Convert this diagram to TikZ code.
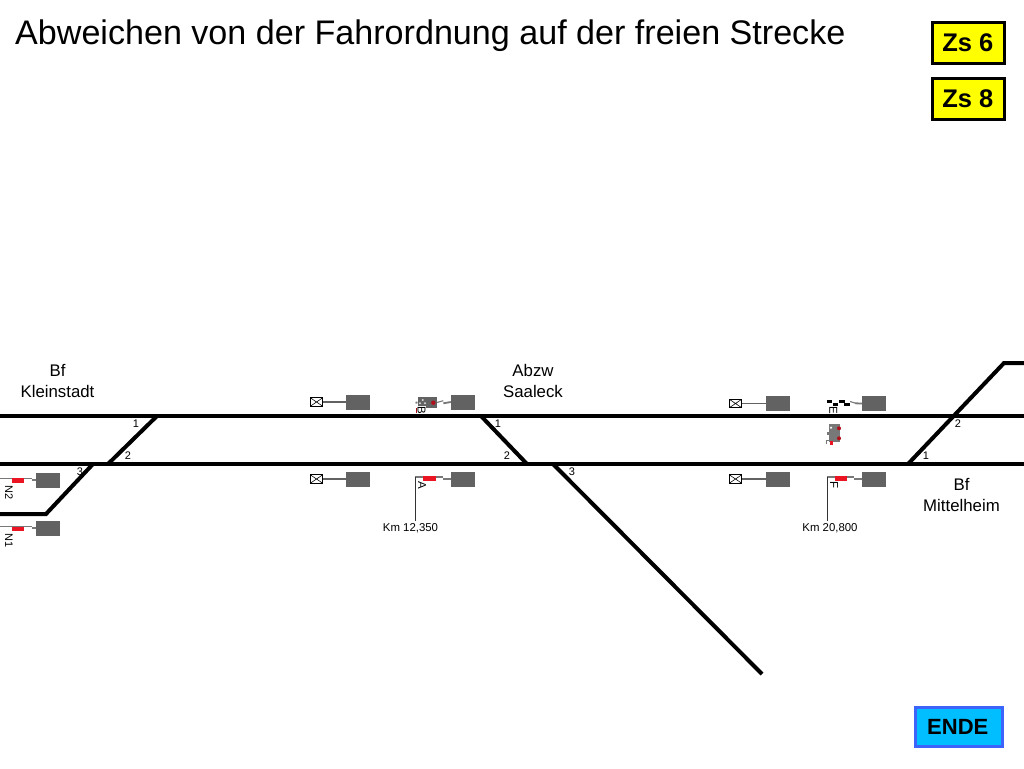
\documentclass[tikz,border=0pt]{standalone}
\usepackage{fontspec}
\setmainfont{Liberation Sans}
\definecolor{blockgray}{RGB}{98,98,98}
\definecolor{armgray}{RGB}{120,120,120}
\definecolor{sigred}{RGB}{235,20,35}
\definecolor{zsyellow}{RGB}{255,255,0}
\definecolor{endecyan}{RGB}{0,190,255}
\definecolor{endeblue}{RGB}{60,100,250}
\tikzset{
  track/.style={line width=4pt},
  block/.style={draw=none, fill=blockgray, rectangle, minimum width=24pt, minimum height=15pt, inner sep=0pt},
  crossbox/.style={draw=black, line width=0.7pt, rectangle, minimum width=12.5pt, minimum height=8.5pt, inner sep=0pt,
    path picture={\draw[line width=0.6pt] (path picture bounding box.north west) -- (path picture bounding box.south east)
      (path picture bounding box.south west) -- (path picture bounding box.north east);}},
  redbar/.style={fill=sigred, draw=none, rectangle, minimum width=12.5pt, minimum height=4.5pt, inner sep=0pt},
  arm/.style={line width=1.1pt, draw=armgray},
  arm thick/.style={line width=1.8pt, draw=armgray},
  mast/.style={line width=0.8pt, draw=black!80},
  zsbox/.style={draw=black, fill=zsyellow, line width=3pt, rectangle, minimum width=72pt, minimum height=41pt, inner sep=0pt,
    font=\fontsize{25.5}{25.5}\selectfont\bfseries},
  endebox/.style={draw=endeblue, fill=endecyan, line width=3pt, rectangle, minimum width=87pt, minimum height=39pt, inner sep=0pt,
    font=\fontsize{22}{22}\selectfont\bfseries},
  place/.style={align=center, font=\fontsize{16.8}{21}\selectfont, inner sep=0pt},
  tracknum/.style={font=\fontsize{11}{11}\selectfont, inner sep=0pt},
  km/.style={font=\fontsize{11.4}{11.4}\selectfont, inner sep=0pt},
  sigletter/.style={font=\fontsize{11.5}{11.5}\selectfont, rotate=-90, inner sep=0pt}
}
\begin{document}
\begin{tikzpicture}[x=1pt, y=-1pt]
  \useasboundingbox (0,0) rectangle (1024,768);

  \node[anchor=west, inner sep=0pt, font=\fontsize{34.1}{35}\selectfont] (title) at (15,36) {Abweichen von der Fahrordnung auf der freien Strecke};
  \node[zsbox] (zs6) at (968.5,43) {\hspace*{-1.5pt}Zs 6};
  \node[zsbox] (zs8) at (968.5,99) {\hspace*{-1.5pt}Zs 8};
  \node[endebox] (ende) at (958.5,727) {\hspace*{-1.5pt}ENDE};

  \coordinate (topL) at (0,416);
  \coordinate (topR) at (1024,416);
  \coordinate (botL) at (0,464);
  \coordinate (botR) at (1024,464);
  \draw[track] (topL) -- (topR);
  \draw[track] (botL) -- (botR);

  \coordinate (kleinA) at (157,416);
  \coordinate (kleinB) at (108,464);
  \coordinate (kleinC) at (93,464);
  \coordinate (kleinD) at (46,514);
  \coordinate (kleinE) at (0,514);
  \draw[track] (kleinA) -- (kleinB);
  \draw[track, line join=miter] (kleinC) -- (kleinD) -- (kleinE);

  \coordinate (saalA) at (481,416);
  \coordinate (saalB) at (527,464);
  \coordinate (saalC) at (553,464);
  \coordinate (saalD) at (762,674);
  \draw[track] (saalA) -- (saalB);
  \draw[track] (saalC) -- (saalD);

  \coordinate (mittA) at (908,464);
  \coordinate (mittB) at (1004,363);
  \coordinate (mittC) at (1024,363);
  \draw[track, line join=miter] (mittA) -- (mittB) -- (mittC);

  \node[place] (kleinstadt) at (57.5,381) {Bf\\Kleinstadt};
  \node[place] (saaleck) at (533,381) {Abzw\\Saaleck};
  \node[place] (mittelheim) at (961.5,494.5) {Bf\\Mittelheim};

  \foreach \x/\y/\t in {136/424/1, 128/456/2, 80/472/3, 498/424/1, 507/456/2, 572/472/3, 958/424/2, 926/456/1}
    \node[tracknum] at (\x,\y) {\t};

  % Blockstellen mit Kreuz
  \foreach \name/\x/\y/\bx in {a/358/402/316.5, b/358/479/316.5, c/778/403.5/735.5, d/778/479/735.5} {
    \node[block] (blk\name) at (\x,\y) {};
    \node[crossbox] (cross\name) at (\bx,\y) {};
    \draw[line width=1.3pt, draw=blockgray] (cross\name) -- (blk\name);
  }

  % Signal A
  \node[block] (blkA) at (463,479) {};
  \coordinate (armA) at (443,477);
  \coordinate (mastA) at (415,477);
  \coordinate (footA) at (415,521);
  \draw[arm thick] (blkA.west) -- (443,479);
  \draw[arm] (armA) -- (mastA);
  \draw[mast] (mastA) -- (footA);
  \node[redbar] (barA) at (429.5,478.7) {};
  \node[sigletter] (letterA) at (422,485) {A};
  \node[km] (kmA) at (410.5,528) {Km 12,350};

  % Signal F
  \node[block] (blkF) at (874,479) {};
  \coordinate (armF) at (854,477);
  \coordinate (mastF) at (827,477);
  \coordinate (footF) at (827,521);
  \draw[arm thick] (blkF.west) -- (854,479);
  \draw[arm] (armF) -- (mastF);
  \draw[mast] (mastF) -- (footF);
  \node[redbar] (barF) at (841,478.7) {};
  \node[sigletter] (letterF) at (834,485) {F};
  \node[km] (kmF) at (830,528) {Km 20,800};

  % Signale N1 und N2
  \foreach \name/\y in {1/528.3, 2/480} {
    \node[block] (blkN\name) at (48,\y) {};
    \coordinate (armN\name) at (32,\y-1.5);
    \coordinate (endN\name) at (0,\y-1.5);
    \draw[arm thick] (blkN\name.west) -- (32,\y);
    \draw[arm] (armN\name) -- (endN\name);
    \node[redbar] (barN\name) at (18,\y+0.5) {};
    \node[sigletter, font=\fontsize{11}{11}\selectfont] (letterN\name) at (9,\y+12.3) {N\name};
  }

  % Signal B
  \node[block] (blkB) at (463,402) {};
  \node[fill=blockgray, rectangle, minimum width=19pt, minimum height=11.6pt, inner sep=0pt] (bodyB) at (427.2,402.5) {};
  \fill[sigred!75!black] (433.3,402.7) circle (2.2pt);
  \fill[white!85!black] (422.7,400) circle (1.1pt) (420,403.3) circle (1.1pt) (425,403.3) circle (1.1pt);
  \draw[arm] (bodyB.east) -- (443.3,400.7);
  \draw[arm thick] (443.3,403.3) -- (blkB.west);
  \draw[arm thick] (bodyB.west) -- (415.5,402.7);
  \draw[line width=0.9pt, draw=sigred!70!black] (416.5,413) -- (416.5,408) -- (424,408);
  \node[sigletter, fill=white, inner sep=0.3pt] (letterB) at (421.5,410.3) {B};

  % Signal E
  \node[block] (blkE) at (874,403.5) {};
  \foreach \x/\y in {826.7/400, 832.7/403.3, 839/400, 844.3/403.3}
    \fill[black] (\x,\y) rectangle ++(5.7,2.8);
  \draw[arm] (850,401.5) -- (855,403);
  \draw[arm thick] (855,403.3) -- (blkE.west);
  \node[sigletter] (letterE) at (833.3,410.3) {E};

  % Zug
  \node[fill=armgray, rectangle, minimum width=11pt, minimum height=18pt, inner sep=0pt] (loco) at (834.5,433.3) {};
  \fill[sigred!75!black] (839,428.3) circle (2pt) (839,438.3) circle (2pt);
  \fill[white] (831,427.7) circle (1.2pt);
  \fill[sigred] (830,440.7) rectangle (832.7,445);
  \draw[line width=0.6pt, draw=armgray] (826.7,444) -- (826.7,440.7) -- (830,440.7);
  \fill[armgray] (826.7,431.7) rectangle (829,435);
\end{tikzpicture}
\end{document}
